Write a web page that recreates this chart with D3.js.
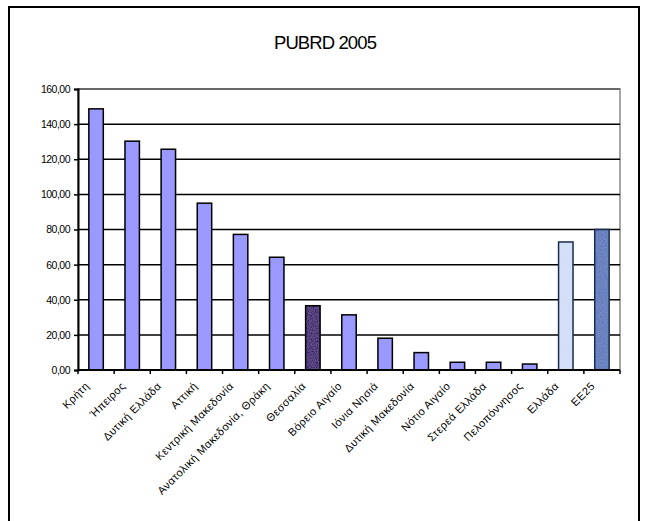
<!DOCTYPE html>
<html><head><meta charset="utf-8">
<script src="https://cdn.jsdelivr.net/npm/d3@7"></script>
<style>body{margin:0;background:#fff}svg{display:block}text{font-family:"Liberation Sans",Arial,sans-serif}</style>
</head><body><svg id="c" width="651" height="521"></svg>
<script>
const categories = ["Κρήτη","Ήπειρος","Δυτική Ελλάδα","Αττική","Κεντρική Μακεδονία","Ανατολική Μακεδονία, Θράκη","Θεσσαλία","Βόρειο Αιγαίο","Ιόνια Νησιά","Δυτική Μακεδονία","Νότιο Αιγαίο","Στερεά Ελλάδα","Πελοπόννησος","Ελλάδα","ΕΕ25"];
const values = [148.7,130.3,125.7,95.0,77.2,64.2,36.6,31.4,18.1,9.9,4.4,4.4,3.4,72.9,80.0];
const barColors = ["#9999ff","#9999ff","#9999ff","#9999ff","#9999ff","#9999ff","#3a0a70","#9999ff","#9999ff","#9999ff","#9999ff","#9999ff","#9999ff","#d0def6","#5a78bc"];
const yTicks = [0,20,40,60,80,100,120,140,160];
const title = "PUBRD 2005";

const svg = d3.select("#c");
const L = 78, R = 620, T = 89, B = 370;
svg.append("rect").attr("x",9).attr("y",7).attr("width",630).attr("height",530)
  .attr("fill","none").attr("stroke","#000").attr("stroke-width",2);
svg.append("text").attr("x",325).attr("y",49).attr("text-anchor","middle")
  .attr("font-size",18.5).attr("letter-spacing","-0.9").text(title);

const x = d3.scaleBand().domain(categories).range([L,R]).paddingInner(0.6).paddingOuter(0.3);
const y = d3.scaleLinear().domain([0,160]).range([B,T]);

svg.append("rect").attr("x",L).attr("y",T).attr("width",R-L).attr("height",B-T)
  .attr("fill","none").attr("stroke","#888").attr("stroke-width",1.5);
svg.append("g").selectAll("line").data(yTicks.filter(d=>d>0)).join("line")
  .attr("x1",L).attr("x2",R).attr("y1",d=>y(d)).attr("y2",d=>y(d))
  .attr("stroke",d=>d===160?"#555":"#000").attr("stroke-width",1.5);

const defs = svg.append("defs");
const f = defs.append("filter").attr("id","tex").attr("x",0).attr("y",0).attr("width",1).attr("height",1);
f.append("feTurbulence").attr("type","fractalNoise").attr("baseFrequency",1.2).attr("numOctaves",2).attr("result","n");
f.append("feColorMatrix").attr("in","n").attr("type","matrix")
  .attr("values","0 0 0 0 1  0 0 0 0 1  0 0 0 0 1  0 0 0 0.18 -0.04").attr("result","n2");
f.append("feComposite").attr("in","n2").attr("in2","SourceGraphic").attr("operator","atop");

svg.append("g").selectAll("rect").data(categories).join("rect")
  .attr("x",d=>x(d)).attr("width",x.bandwidth())
  .attr("y",(d,i)=>y(values[i])).attr("height",(d,i)=>y(0)-y(values[i]))
  .attr("fill",(d,i)=>barColors[i])
  .attr("filter",(d,i)=>i>=13||i===6?"url(#tex)":null);
svg.append("g").selectAll("rect").data(categories).join("rect")
  .attr("x",d=>x(d)).attr("width",x.bandwidth())
  .attr("y",(d,i)=>y(values[i])).attr("height",(d,i)=>y(0)-y(values[i]))
  .attr("fill","none").attr("stroke",(d,i)=>i>=13?"#1a2a50":"#000").attr("stroke-width",1.5);

const ya = svg.append("g").attr("transform",`translate(${L},0)`)
  .call(d3.axisLeft(y).tickValues(yTicks).tickSize(4).tickFormat(d=>d3.format(".2f")(d).replace(".",",")));
ya.select(".domain").attr("stroke","#000").attr("stroke-width",2);
ya.selectAll(".tick line").attr("stroke","#000").attr("stroke-width",1.5);
ya.selectAll("text").attr("font-size",10.5).attr("letter-spacing","-0.5").attr("fill","#000").attr("dx",-1);

const edges = d3.range(categories.length+1).map(i=>L+i*(R-L)/categories.length);
svg.append("line").attr("x1",L).attr("x2",R).attr("y1",B).attr("y2",B).attr("stroke","#000").attr("stroke-width",2);
svg.append("g").selectAll("line").data(edges).join("line")
  .attr("x1",d=>d).attr("x2",d=>d).attr("y1",B).attr("y2",B+4).attr("stroke","#000").attr("stroke-width",1.5);
svg.append("g").selectAll("text").data(categories).join("text")
  .attr("transform",d=>`translate(${x(d)+x.bandwidth()/2-9},${B+14}) rotate(-45)`)
  .attr("text-anchor","end").attr("dy","0.35em").attr("font-size",11).attr("letter-spacing","0.4")
  .text(d=>d);
</script></body></html>
